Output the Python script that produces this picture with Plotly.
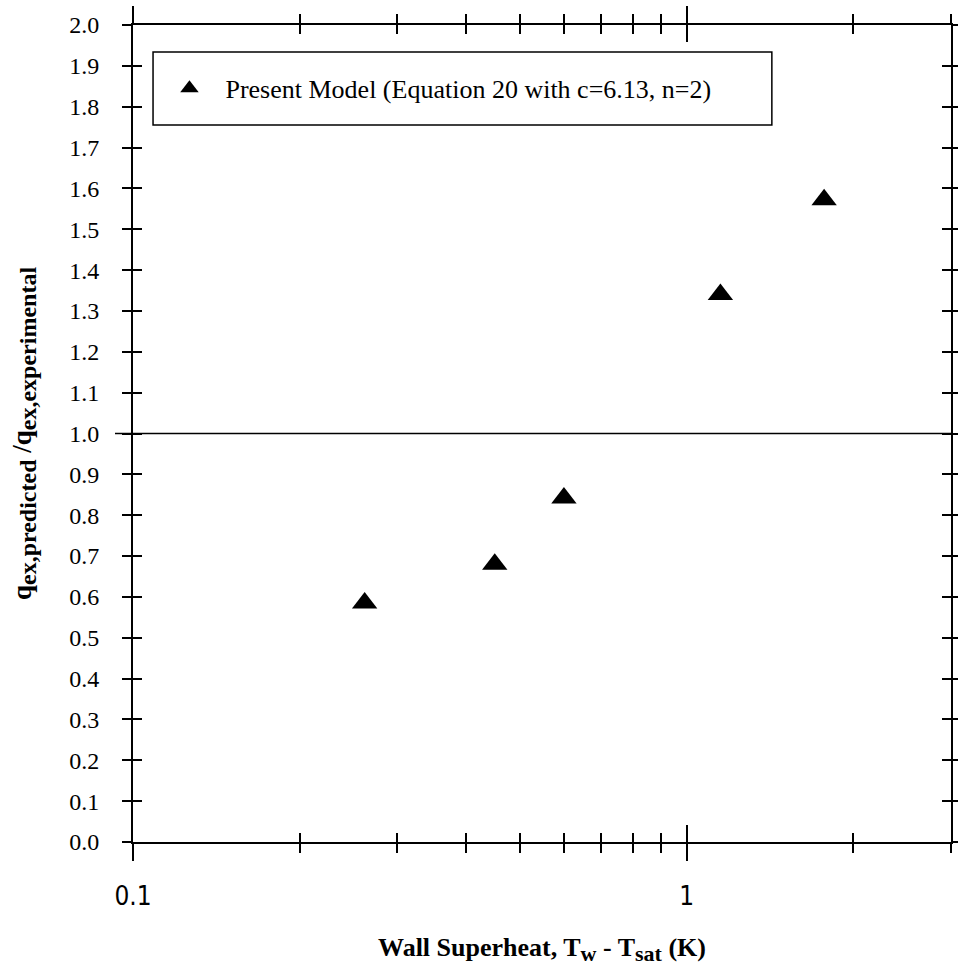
import plotly.graph_objects as go

# Data
superheat = [0.262, 0.45, 0.60, 1.15, 1.77]
ratio = [0.585, 0.68, 0.842, 1.34, 1.572]
series_name = "Present Model (Equation 20 with c=6.13, n=2)"

x_major = [0.1, 1]
x_major_text = ["0.1", "1"]
x_minor = [0.2, 0.3, 0.4, 0.5, 0.6, 0.7, 0.8, 0.9, 2, 3]
y_ticks = [round(i * 0.1, 1) for i in range(21)]
y_ticktext = [f"{v:.1f}" for v in y_ticks]

XR = [-1, 0.4771]
YR = [0, 2.0]
serif = "Liberation Serif, Times New Roman, serif"
sans_narrow = "Liberation Sans Narrow, DejaVu Sans Condensed, Liberation Sans, Arial, sans-serif"

fig = go.Figure()
fig.add_trace(go.Scatter(
    x=superheat, y=ratio, mode="markers", name=series_name,
    marker=dict(symbol="triangle-up", size=22, color="black"),
    xaxis="x", yaxis="y", showlegend=True,
))
# invisible traces to activate the overlay axes (inside ticks)
for xa, ya in [("x2", "y2"), ("x3", "y2")]:
    fig.add_trace(go.Scatter(x=[superheat[0]], y=[ratio[0]], mode="markers",
                             marker=dict(opacity=0), xaxis=xa, yaxis=ya,
                             showlegend=False, hoverinfo="skip"))

base_x = dict(type="log", range=XR, showgrid=False, zeroline=False,
              linecolor="black", linewidth=2, tickcolor="black", tickwidth=1.5,
              mirror="allticks", automargin=False)
base_y = dict(range=YR, tickvals=y_ticks, showgrid=False, zeroline=False,
              linecolor="black", linewidth=2, tickcolor="black",
              tickwidth=1.5, ticklen=9, mirror="allticks", automargin=False)

sub = lambda t, s: f"<sub><span style='font-size:{s}px'>{t}</span></sub>"

fig.update_layout(
    width=958, height=966,
    paper_bgcolor="white", plot_bgcolor="white",
    margin=dict(l=133, r=7, t=25, b=124),
    showlegend=True,
    xaxis=dict(**base_x, ticks="outside", tickvals=x_major, ticktext=x_major_text,
               ticklen=17,
               tickfont=dict(family=sans_narrow, size=26, color="black"),
               ticklabelstandoff=13,
               minor=dict(tickvals=x_minor, ticks="outside", ticklen=9,
                          tickwidth=1.5, tickcolor="black"),
               title=dict(text="<b>Wall Superheat, T" + sub("w", 22) + " - T" + sub("sat", 22) + " (K)</b>",
                          font=dict(family=serif, size=26, color="black"),
                          standoff=36)),
    xaxis2=dict(**base_x, overlaying="x", anchor="y2", side="bottom",
                ticks="inside", tickvals=x_minor, ticklen=9, showticklabels=False),
    xaxis3=dict(**base_x, overlaying="x", anchor="y2", side="bottom",
                ticks="inside", tickvals=x_major, ticklen=17, showticklabels=False),
    yaxis=dict(**base_y, ticks="outside", ticktext=y_ticktext,
               tickfont=dict(family=serif, size=24, color="black"),
               ticklabelstandoff=18,
               title=dict(text="<b>q" + sub("ex,predicted", 24) + " /q" + sub("ex,experimental", 24) + "</b>",
                          font=dict(family=serif, size=27, color="black"),
                          standoff=30)),
    yaxis2=dict(**base_y, overlaying="y", anchor="x2", side="left",
                ticks="inside", showticklabels=False),
    legend=dict(x=0.025, y=0.9225, xanchor="left", yanchor="middle",
                bgcolor="rgba(0,0,0,0)", borderwidth=0,
                font=dict(family=serif, size=26, color="black"),
                itemwidth=62),
    shapes=[
        dict(type="line", xref="paper", yref="y", x0=-0.022, x1=1, y0=1, y1=1,
             line=dict(color="black", width=1.5)),
        dict(type="rect", xref="paper", yref="paper", x0=0.0245, x1=0.781,
             y0=0.8776, y1=0.967, line=dict(color="black", width=1.5),
             fillcolor="rgba(0,0,0,0)"),
    ],
)

fig.write_html(
    "out.html",
    config={"displayModeBar": False},
    post_script="document.body.style.margin='0';document.body.style.overflow='hidden';",
)
